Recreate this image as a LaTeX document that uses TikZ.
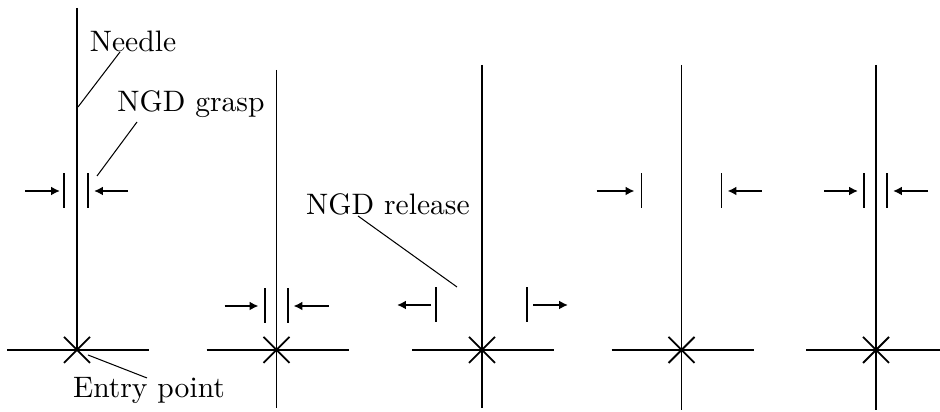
\documentclass[tikz,border=0pt]{standalone}
\usepackage{tikz}
\usetikzlibrary{arrows.meta,positioning}

\begin{document}
\begin{tikzpicture}[x=0.338pt,y=0.338pt,
  needle/.style={line width=0.6pt},
  jaw/.style={line width=0.6pt},
  push/.style={line width=0.6pt,-{Latex[length=3pt,width=3pt]}},
  leader/.style={line width=0.35pt},
  lbl/.style={inner sep=1pt}]
  \useasboundingbox (0,-62) rectangle (940,350);
  % centre/needle top/needle bottom/jaws/jaw base/left arrow/right arrow
  \foreach \cx/\top/\bot/\jl/\jr/\jy/\ls/\le/\rs/\re/\n in {
      77/342/0/-13/11/142/-52/-17/51/17/1,
      276.5/280/-58/-11.5/11.5/27/-52/-18/52/17/2,
      482/285/-58/-46/45/28/-51/-85/51/86/3,
      681.5/285/-60/-40/40/142/-85/-47/80/46/4,
      876/285/-60/-12/11/142/-52/-18/52/17/5} {
    \begin{scope}[shift={(\cx,0)}]
      \coordinate (entry\n) at (0,0);
      \coordinate (top\n) at (0,\top);
      \coordinate (bot\n) at (0,\bot);
      \draw[needle] (top\n) -- (bot\n);
      \draw[needle] (-70,0) -- (72,0);
      \draw[needle] (entry\n) +(-13,-13) -- +(13,13);
      \draw[needle] (entry\n) +(-13,13) -- +(13,-13);
      \draw[jaw] (\jl,\jy) -- ++(0,35);
      \draw[jaw] (\jr,\jy) -- ++(0,35);
      \draw[push] (\ls,\jy+17) -- (\le,\jy+17);
      \draw[push] (\rs,\jy+17) -- (\re,\jy+17);
    \end{scope} }
  \node[lbl] (needlelbl) at (133,309) {Needle};
  \node[lbl] (grasplbl) at (191,246) {NGD grasp};
  \node[lbl] (releaselbl) at (388,146) {NGD release};
  \node[lbl] (entrylbl) at (149,-40) {Entry point};
  \coordinate (needlept) at (78,243);
  \coordinate (needleend) at (120,298);
  \coordinate (grasppt) at (97,174);
  \coordinate (graspend) at (137,228);
  \coordinate (releasept) at (457,63);
  \coordinate (releaseend) at (358,134);
  \coordinate (entrypt) at (88,-5);
  \coordinate (entryend) at (147,-28);
  \draw[leader] (needlept) -- (needleend);
  \draw[leader] (grasppt) -- (graspend);
  \draw[leader] (releasept) -- (releaseend);
  \draw[leader] (entrypt) -- (entryend);
\end{tikzpicture}
\end{document}
